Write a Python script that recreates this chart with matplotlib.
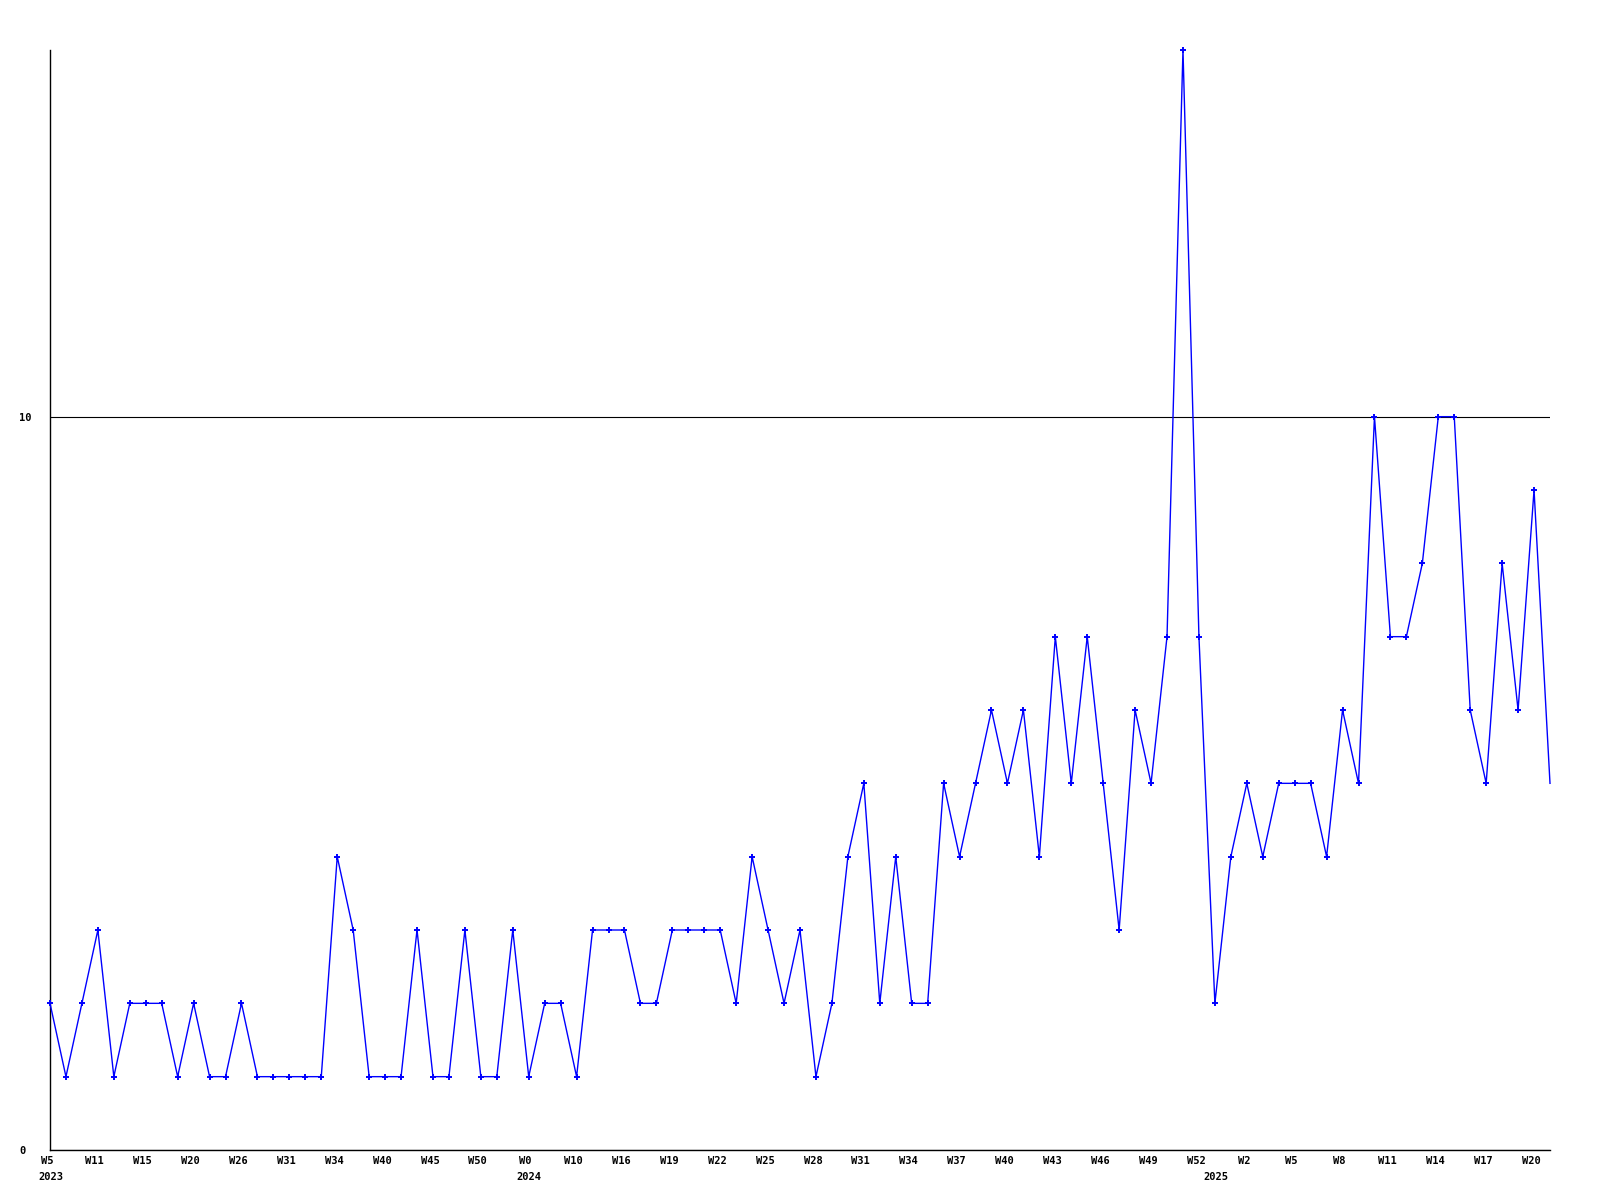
import matplotlib
matplotlib.use('Agg')
import matplotlib.pyplot as plt
import matplotlib.transforms as mtransforms

# weekly counts
counts = [2, 1, 2, 3, 1, 2, 2, 2, 1, 2, 1, 1, 2, 1, 1, 1, 1, 1, 4, 3,
          1, 1, 1, 3, 1, 1, 3, 1, 1, 3, 1, 2, 2, 1, 3, 3, 3, 2, 2, 3,
          3, 3, 3, 2, 4, 3, 2, 3, 1, 2, 4, 5, 2, 4, 2, 2, 5, 4, 5, 6,
          5, 6, 4, 7, 5, 7, 5, 3, 6, 5, 7, 15, 7, 2, 4, 5, 4, 5, 5, 5,
          4, 6, 5, 10, 7, 7, 8, 10, 10, 6, 5, 8, 6, 9, 5]

week_labels = ["W5", "W11", "W15", "W20", "W26", "W31", "W34", "W40", "W45", "W50",
               "W0", "W10", "W16", "W19", "W22", "W25", "W28", "W31", "W34", "W37",
               "W40", "W43", "W46", "W49", "W52", "W2", "W5", "W8", "W11", "W14",
               "W17", "W20"]
tick_step = 3

years = ["2023", "2024", "2025"]
year_pos = [0, 30, 73]

fig = plt.figure(figsize=(16, 12), dpi=100)
ax = fig.add_axes([50 / 1600, 50 / 1200, 1500 / 1600, 1100 / 1200])

x = list(range(len(counts)))
# the last (running) week is drawn without a marker
ax.plot(x, counts, color='#0000ff', linewidth=1.0, marker='+', markersize=4.5,
        markeredgewidth=1.4, markevery=list(range(len(counts) - 1)),
        clip_on=False, zorder=3)

ax.set_xlim(0, len(counts) - 1)
ax.set_ylim(0, 15)

ax.spines['top'].set_visible(False)
ax.spines['right'].set_visible(False)
ax.spines['left'].set_linewidth(1.0)
ax.spines['bottom'].set_linewidth(1.0)

ax.set_yticks([0, 10])
ax.set_yticklabels(["0", "10"], family='DejaVu Sans Mono', fontweight='bold', fontsize=7.5)
for lab in ax.get_yticklabels():
    lab.set_horizontalalignment('left')
ax.yaxis.grid(True, color='black', linewidth=0.8)
ax.set_axisbelow(True)

ax.set_xticks([i * tick_step for i in range(len(week_labels))])
ax.set_xticklabels(week_labels, family='DejaVu Sans Mono', fontweight='bold', fontsize=7.5)
ax.tick_params(axis='x', length=0, pad=4)
ax.tick_params(axis='y', length=0, pad=22)
shift = mtransforms.ScaledTranslation(-3 / 100, 0, fig.dpi_scale_trans)
for lab in ax.get_xticklabels():
    lab.set_transform(lab.get_transform() + shift)

trans = mtransforms.blended_transform_factory(ax.transData, ax.transAxes)
for yr, pos in zip(years, year_pos):
    ax.text(pos - 0.75, -0.020, yr, transform=trans, ha='left', va='top',
            family='DejaVu Sans Mono', fontweight='bold', fontsize=7.5)

fig.savefig('out.png', dpi=100)
